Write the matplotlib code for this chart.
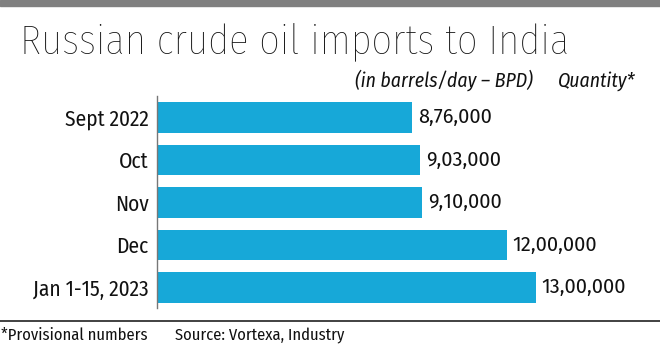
import matplotlib
matplotlib.use("Agg")
import matplotlib.pyplot as plt
from matplotlib.patches import Rectangle
from matplotlib.lines import Line2D

# data
months = ["Sept 2022", "Oct", "Nov", "Dec", "Jan 1-15, 2023"]
quantity_bpd = [876000, 903000, 910000, 1200000, 1300000]

BAR_COLOR = "#17a8d8"
COND = ["Fira Sans Condensed", "DejaVu Sans"]
TEXT_COLOR = "#111111"


def indian_format(n):
    # 1300000 -> 13,00,000
    s = str(int(n))
    if len(s) <= 3:
        return s
    head, tail = s[:-3], s[-3:]
    groups = []
    while len(head) > 2:
        groups.insert(0, head[-2:])
        head = head[:-2]
    if head:
        groups.insert(0, head)
    return ",".join(groups) + "," + tail


W, H = 660, 344
fig = plt.figure(figsize=(W / 100, H / 100), dpi=100)
fig.patch.set_facecolor("white")
renderer = fig.canvas.get_renderer()


def size_for_width(text, width_px, **kw):
    # font size so that text spans about width_px
    t = fig.text(0, 0, text, fontsize=10, **kw)
    w = t.get_window_extent(renderer).width
    t.remove()
    return 10 * width_px / w


# axes placed in pixel terms
ax_left, ax_right, ax_top, ax_bottom = 157, 657, 96, 308
ax = fig.add_axes([ax_left / W, 1 - ax_bottom / H,
                   (ax_right - ax_left) / W, (ax_bottom - ax_top) / H])

y = list(range(len(months)))
ax.barh(y, quantity_bpd, height=0.72, color=BAR_COLOR, zorder=2)

ax.set_xlim(0, (ax_right - ax_left) * 1300000 / 379)
ax.set_ylim(4.482, -0.506)

val_size = size_for_width("8,76,000", 74, family=["Fira Sans", "DejaVu Sans"])
for i, v in enumerate(quantity_bpd):
    ax.annotate(indian_format(v), (v, i), xytext=(4, 0), textcoords="offset points",
                va="center", ha="left", fontsize=val_size, color=TEXT_COLOR,
                family=["Fira Sans", "DejaVu Sans"])

cat_size = size_for_width("Sept 2022", 84, family=COND)
ax.set_yticks(y)
ax.set_yticklabels(months, family=COND, fontsize=cat_size, color=TEXT_COLOR)
ax.tick_params(axis="y", length=0, pad=6)
ax.set_xticks([])
for side in ["top", "right", "bottom"]:
    ax.spines[side].set_visible(False)
ax.spines["left"].set_color("#777777")
ax.spines["left"].set_linewidth(1.0)

# grey strip at top
fig.patches.append(Rectangle((0, 1 - 6 / H), 1, 6 / H, transform=fig.transFigure,
                             color="#808080", zorder=0))

title = "Russian crude oil imports to India"
title_size = size_for_width(title, 550, family=COND, weight=200)
fig.text(20 / W, 1 - 53 / H, title, family=COND, weight=200,
         fontsize=title_size, color=TEXT_COLOR, va="baseline", ha="left")

sub = "(in barrels/day \u2013 BPD)"
sub_size = size_for_width(sub, 178, family=COND, style="italic")
fig.text(533 / W, 1 - 87 / H, sub, family=COND,
         style="italic", fontsize=sub_size, color=TEXT_COLOR, va="baseline", ha="right")
fig.text(635 / W, 1 - 87 / H, "Quantity*", family=COND,
         style="italic", fontsize=sub_size, color=TEXT_COLOR, va="baseline", ha="right")

# footer rule and notes
fig.lines.append(Line2D([0, 1], [1 - 321 / H, 1 - 321 / H], transform=fig.transFigure,
                        color="#333333", linewidth=1.3))
foot_size = size_for_width("*Provisional numbers", 146, family=COND)
fig.text(1 / W, 1 - 340 / H, "*Provisional numbers", family=COND,
         fontsize=foot_size, color=TEXT_COLOR, va="baseline", ha="left")
fig.text(175 / W, 1 - 340 / H, "Source: Vortexa, Industry", family=COND,
         fontsize=foot_size, color=TEXT_COLOR, va="baseline", ha="left")

fig.savefig("out.png", dpi=100, facecolor="white")
